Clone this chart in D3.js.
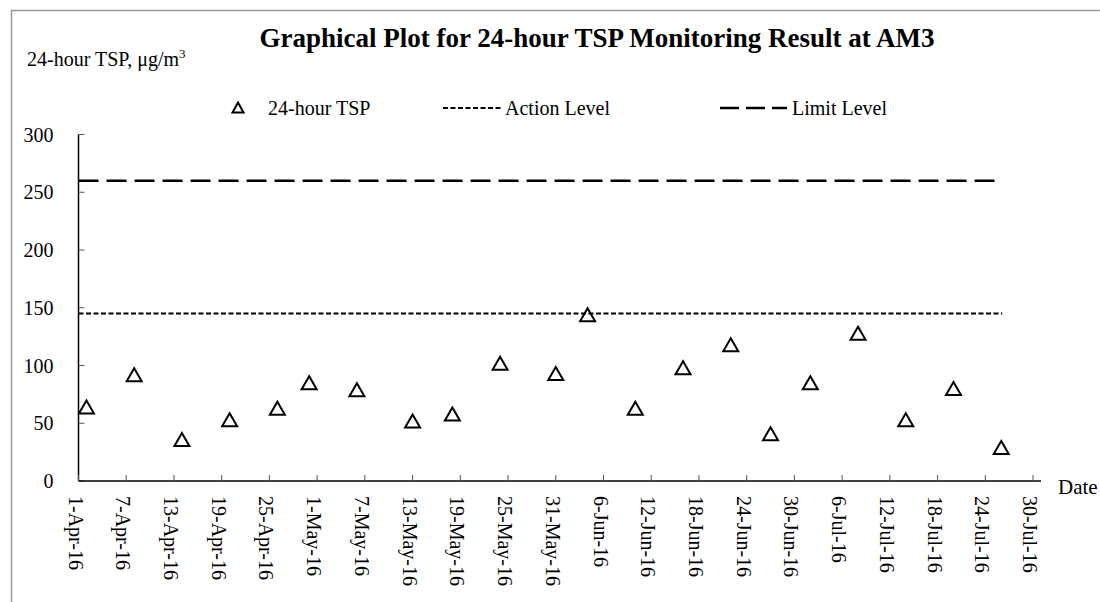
<!DOCTYPE html>
<html>
<head>
<meta charset="utf-8">
<script src="https://cdn.jsdelivr.net/npm/d3@7"></script>
<style>
  body { margin: 0; background: #fff; }
  text { font-family: "Liberation Serif", "Times New Roman", serif; fill: #000; }
</style>
</head>
<body>
<div id="chart"></div>
<script>
var width = 1100;
var height = 602;

// data
var sampleDates = ["2016-04-02", "2016-04-08", "2016-04-14", "2016-04-20", "2016-04-26", "2016-04-30",
  "2016-05-06", "2016-05-13", "2016-05-18", "2016-05-24", "2016-05-31", "2016-06-04",
  "2016-06-10", "2016-06-16", "2016-06-22", "2016-06-27", "2016-07-02", "2016-07-08",
  "2016-07-14", "2016-07-20", "2016-07-26"];
var tspValues = [64, 92, 36, 53, 63, 85, 79, 52, 58, 102, 93, 144, 63, 98, 118, 41, 85, 128, 53, 80, 29];
var actionLevel = 145;
var limitLevel = 260;
var yTicks = [0, 50, 100, 150, 200, 250, 300];
var xStart = "2016-04-01", xEnd = "2016-07-31";

var parse = d3.timeParse("%Y-%m-%d");
var fmt = d3.timeFormat("%-d-%b-%y");
var points = sampleDates.map((d, i) => ({date: parse(d), value: tspValues[i]}));

var svg = d3.select("#chart")
  .append("svg")
  .attr("width", width)
  .attr("height", height)
  .style("display", "block");

// outer chart frame
svg.append("rect")
  .attr("x", 11.5).attr("y", 10.5)
  .attr("width", 1200).attr("height", 700)
  .attr("fill", "none")
  .attr("stroke", "#999")
  .attr("stroke-width", 1.5);

var x = d3.scaleTime()
  .domain([parse(xStart), parse(xEnd)])
  .range([78.5, 1041]);
var y = d3.scaleLinear()
  .domain([0, 300])
  .range([481, 134.5]);

// y axis
var yAxis = svg.append("g").attr("transform", "translate(78.5,0)");
yAxis.append("line").attr("y1", y(0)).attr("y2", y(300))
  .attr("stroke", "#000").attr("stroke-width", 1.5);
yAxis.selectAll(".ytick").data(yTicks).enter().append("line")
  .attr("x1", 0).attr("x2", 6)
  .attr("y1", d => y(d)).attr("y2", d => y(d))
  .attr("stroke", "#555");
yAxis.selectAll(".ylab").data(yTicks).enter().append("text")
  .attr("x", -25).attr("y", d => y(d))
  .attr("dy", "0.35em")
  .attr("text-anchor", "end")
  .style("font-size", "20px")
  .text(d => d);

// x axis
var xTicks = d3.timeDay.range(parse(xStart), parse(xEnd), 1).filter((d, i) => i % 6 === 0);
var xAxis = svg.append("g").attr("transform", "translate(0,481)");
xAxis.append("line").attr("x1", x.range()[0]).attr("x2", x.range()[1])
  .attr("stroke", "#000").attr("stroke-width", 1.5);
xAxis.selectAll(".xtick").data(xTicks).enter().append("line")
  .attr("x1", d => x(d)).attr("x2", d => x(d))
  .attr("y1", 0).attr("y2", -6)
  .attr("stroke", "#555");
xAxis.selectAll(".xlab").data(xTicks).enter().append("text")
  .attr("transform", d => `translate(${x(d) - 3},15) rotate(90)`)
  .attr("dy", "0.35em")
  .attr("text-anchor", "start")
  .style("font-size", "20px")
  .text(d => fmt(d));

svg.append("text")
  .attr("x", 1058).attr("y", 494)
  .style("font-size", "21px")
  .text("Date");

// level lines span the monitoring period
var last = points[points.length - 1].date;
svg.append("line")
  .attr("x1", x.range()[0]).attr("x2", x(last) + 1)
  .attr("y1", y(limitLevel)).attr("y2", y(limitLevel))
  .attr("stroke", "#000").attr("stroke-width", 2.5)
  .attr("stroke-dasharray", "20,8");
svg.append("line")
  .attr("x1", x.range()[0]).attr("x2", x(last) + 1)
  .attr("y1", y(actionLevel)).attr("y2", y(actionLevel))
  .attr("stroke", "#000").attr("stroke-width", 2)
  .attr("stroke-dasharray", "5,2.5");

var tri = "M0,-6.5L7.5,6.5L-7.5,6.5Z";
svg.selectAll(".pt").data(points).enter().append("path")
  .attr("d", tri)
  .attr("transform", d => `translate(${x(d.date)},${y(d.value)})`)
  .attr("fill", "none")
  .attr("stroke", "#000")
  .attr("stroke-width", 2);

// title and y label
svg.append("text")
  .attr("x", 597).attr("y", 47)
  .attr("text-anchor", "middle")
  .style("font-size", "27px")
  .style("font-weight", "bold")
  .text("Graphical Plot for 24-hour TSP Monitoring Result at AM3");

var yl = svg.append("text")
  .attr("x", 27).attr("y", 66)
  .style("font-size", "20px")
  .text("24-hour TSP, μg/m");
yl.append("tspan").attr("dy", -8).style("font-size", "13px").text("3");

// legend
var leg = svg.append("g");
leg.append("path").attr("d", "M0,-5.5L5.5,4.5L-5.5,4.5Z")
  .attr("transform", "translate(238,108)")
  .attr("fill", "none").attr("stroke", "#000").attr("stroke-width", 2);
leg.append("text").attr("x", 268).attr("y", 115).style("font-size", "20px").text("24-hour TSP");
leg.append("line").attr("x1", 443).attr("x2", 502).attr("y1", 108).attr("y2", 108)
  .attr("stroke", "#000").attr("stroke-width", 2).attr("stroke-dasharray", "5,2.5");
leg.append("text").attr("x", 505).attr("y", 115).style("font-size", "20px").text("Action Level");
leg.append("line").attr("x1", 720).attr("x2", 787).attr("y1", 108).attr("y2", 108)
  .attr("stroke", "#000").attr("stroke-width", 2.5).attr("stroke-dasharray", "19,7");
leg.append("text").attr("x", 792).attr("y", 115).style("font-size", "20px").text("Limit Level");
</script>
</body>
</html>
